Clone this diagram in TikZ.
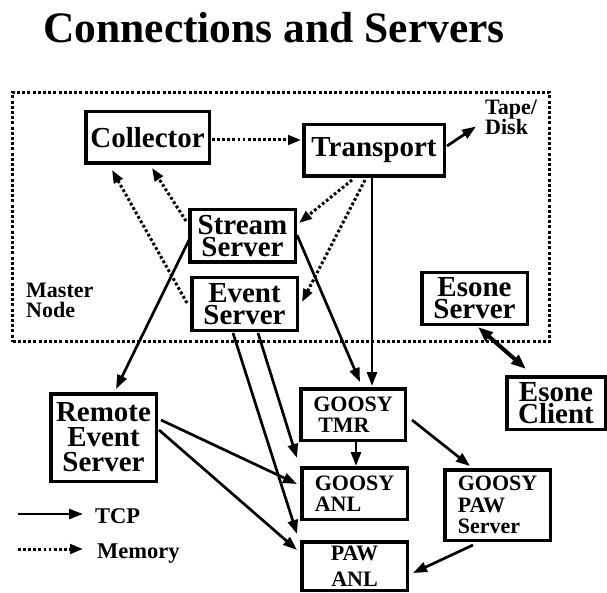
\documentclass[tikz,border=0pt]{standalone}
\usepackage{fontspec}
\setmainfont{Liberation Serif}
\usetikzlibrary{arrows.meta,calc}
\begin{document}
\begin{tikzpicture}[x=1pt,y=-1pt,
  box/.style={draw, line width=3.5pt, inner sep=0pt, align=center},
  big/.style={font=\bfseries\fontsize{29}{22}\selectfont},
  mid/.style={font=\bfseries\fontsize{22}{21.5}\selectfont},
  tcp/.style={line width=2.7pt, -{Triangle[length=14pt,width=10pt]}},
  mem/.style={line width=3pt, dash pattern=on 2.8pt off 2.3pt, -{Triangle[length=13pt,width=9.5pt]}},
  both/.style={line width=4pt, {Triangle[length=15pt,width=11pt]}-{Triangle[length=15pt,width=11pt]}},
  lbl/.style={inner sep=0pt, align=left},
]
\useasboundingbox (0,0) rectangle (607,593);

% title
\node[font=\bfseries\fontsize{43.5}{50}\selectfont, anchor=base, inner sep=0pt] (title) at (274,43) {Connections and Servers};

% master node region
\node[draw, line width=3.5pt, dash pattern=on 3pt off 2.2pt, minimum width=537pt, minimum height=249pt, inner sep=0pt] (master) at (281,217) {};

% boxes
\node[box,big,minimum width=123.5pt,minimum height=51.5pt] (collector) at (147.5,137.5) {Collector};
\node[box,big,minimum width=140.5pt,minimum height=51.5pt] (transport) at (374,150.5) {Transport};
\node[box,big,minimum width=105.5pt,minimum height=52.5pt] (stream) at (242.5,236) {Stream\\Server};
\node[box,big,minimum width=105.5pt,minimum height=52.5pt] (event) at (244.5,304) {Event\\Server};
\node[box,big,minimum width=105.5pt,minimum height=51.5pt] (esones) at (474.5,298.5) {Esone\\Server};
\node[box,font=\bfseries\fontsize{29}{25}\selectfont,minimum width=105.5pt,minimum height=87.5pt] (remote) at (103.5,437.5) {Remote\\Event\\Server};
\node[box,mid,align=left,minimum width=104.5pt,minimum height=51.5pt] (tmr) at (353,414.5) {GOOSY\\\hspace*{5pt}TMR};
\node[box,mid,align=left,minimum width=105.5pt,minimum height=51.5pt] (ganl) at (354.5,493.5) {GOOSY\\ANL};
\node[box,font=\bfseries\fontsize{22}{26}\selectfont,minimum width=105.5pt,minimum height=48.5pt] (pawanl) at (354.5,566) {PAW\\ANL};
\node[box,mid,align=left,minimum width=105.5pt,minimum height=70.5pt] (pawserver) at (497.5,505) {GOOSY\\PAW\\Server};
\node[box,big,minimum width=98.5pt,minimum height=52.5pt] (esonec) at (556,403) {Esone\\Client};

% labels
\node[lbl,font=\bfseries\fontsize{22}{20}\selectfont,anchor=west] (mnode) at (26,300.5) {Master\\Node};
\node[lbl,font=\bfseries\fontsize{22}{20}\selectfont,anchor=west] (tape) at (485,117.5) {Tape/\\Disk};
\node[lbl,font=\bfseries\fontsize{22.5}{24}\selectfont,anchor=base west] (tcpl) at (95,523) {TCP};
\node[lbl,font=\bfseries\fontsize{22.5}{24}\selectfont,anchor=base west] (meml) at (97,558) {Memory};
\coordinate (tcps) at (18,514);
\coordinate (mems) at (18,549);

% legend arrows
\draw[tcp] (tcps) -- ($(tcpl.base west)+(-12,-9)$);
\draw[mem] (mems) -- ($(meml.base west)+(-14,-9)$);

% memory connections
\draw[mem] ($(collector.east)+(1,2.5)$) -- ($(transport.west)+(-1,-10.5)$);
\draw[mem] ($(stream.west)+(-2,-15)$) -- ($(collector.south)+(4.5,3)$);
\draw[mem] ($(event.west)+(-3,-1)$) -- ($(collector.south west)+(28,5)$);
\draw[mem] ($(transport.south)+(-22,2)$) -- ($(stream.east)+(2,-13)$);
\draw[mem] ($(transport.south)+(-9,2)$) -- ($(event.east)+(3,-2)$);

% tcp connections
\draw[tcp] ($(transport.east)+(1,-4.5)$) -- ($(tape.west)+(-9,9)$);
\draw[tcp] ($(transport.south)+(-2,0)$) -- ($(tmr.north)+(19,-1)$);
\draw[tcp] ($(stream.east)+(0,-1)$) -- ($(tmr.north)+(7,-5)$);
\draw[tcp] ($(stream.west)+(1,4)$) -- ($(remote.north)+(12.5,-3)$);
\draw[tcp] ($(event.south)+(13.5,1)$) -- ($(ganl.north west)+(-3,-8)$);
\draw[tcp] ($(event.south)+(-11.5,1)$) -- ($(pawanl.north west)+(-3,-6)$);
\draw[tcp] ($(remote.east)+(3,-17.5)$) -- ($(ganl.west)+(-3,-9.5)$);
\draw[tcp] ($(remote.east)+(1,-7.5)$) -- ($(pawanl.west)+(-3,-16)$);
\draw[tcp] ($(tmr.south)+(3,0)$) -- ($(ganl.north)+(1.5,0)$);
\draw[tcp] ($(tmr.east)+(5,5.5)$) -- ($(pawserver.north)+(-27.5,-2)$);
\draw[tcp] ($(pawserver.south)+(-24.5,3)$) -- ($(pawanl.east)+(4,7)$);
\draw[both] ($(esones.south)+(3.5,1)$) -- ($(esonec.north)+(-30,-6)$);
\end{tikzpicture}
\end{document}
